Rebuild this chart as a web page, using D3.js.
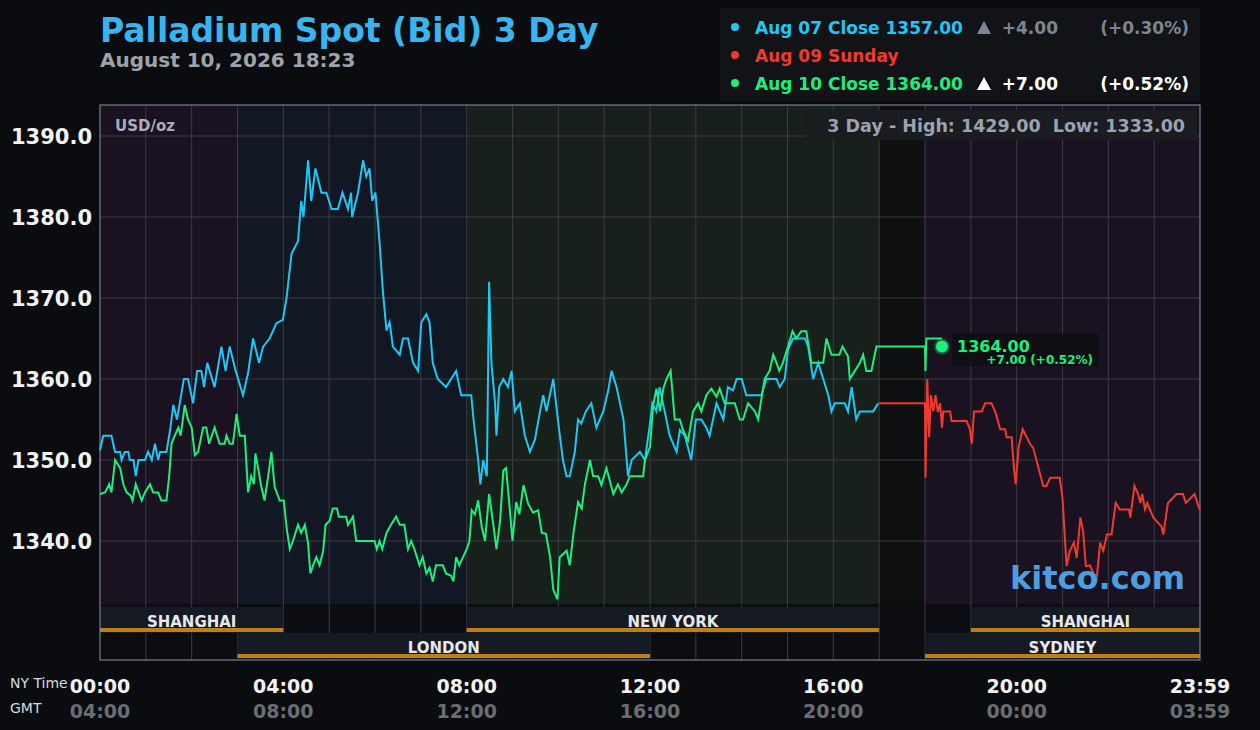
<!DOCTYPE html>
<html><head><meta charset="utf-8">
<script src="https://cdn.jsdelivr.net/npm/d3@7"></script>
<style>body{margin:0;background:#0b0c10;}svg{display:block;font-family:"DejaVu Sans",sans-serif;}text{white-space:pre;}</style>
</head><body><svg id="c" width="1260" height="730"></svg>
<script>
const aug07 = [[0,1351.2],[0.07,1353],[0.25,1353],[0.33,1351],[0.44,1351],[0.47,1350],[0.54,1351],[0.62,1351],[0.65,1350],[0.73,1350],[0.78,1348],[0.84,1350],[0.98,1350],[1.05,1351],[1.13,1350],[1.2,1352],[1.27,1350],[1.31,1351],[1.45,1351],[1.53,1353.7],[1.6,1356.8],[1.68,1355],[1.74,1357],[1.83,1360],[1.92,1360],[2.03,1357],[2.12,1361],[2.21,1361],[2.27,1359],[2.34,1362],[2.5,1359],[2.65,1364],[2.74,1361],[2.83,1364],[2.96,1361],[3.12,1358],[3.23,1360.7],[3.34,1365],[3.47,1362],[3.56,1364],[3.7,1365],[3.85,1366.9],[3.99,1367.3],[4.07,1370],[4.18,1375.5],[4.32,1377],[4.39,1382],[4.44,1380],[4.54,1387],[4.61,1382],[4.7,1386],[4.83,1383],[4.94,1383],[5.05,1381],[5.19,1381],[5.29,1383],[5.41,1381],[5.48,1383],[5.5,1380],[5.63,1383],[5.74,1387],[5.81,1385],[5.88,1386],[5.94,1382],[6.01,1383],[6.1,1376.8],[6.17,1371],[6.25,1366],[6.32,1367],[6.39,1364],[6.54,1363],[6.61,1365],[6.72,1365],[6.83,1362],[6.94,1361],[7.01,1367],[7.12,1368],[7.19,1367],[7.26,1362],[7.37,1360],[7.55,1359],[7.66,1360],[7.77,1361],[7.88,1358],[8.1,1358],[8.15,1355],[8.25,1350],[8.3,1347],[8.36,1350],[8.44,1348],[8.49,1372],[8.54,1362],[8.62,1357],[8.65,1353],[8.71,1359],[8.8,1360],[8.9,1359],[8.98,1361],[9.05,1356],[9.16,1357],[9.27,1353],[9.38,1351],[9.49,1352.5],[9.6,1356],[9.67,1358],[9.74,1356],[9.89,1360],[9.99,1355],[10.1,1350],[10.18,1348],[10.25,1348],[10.36,1351],[10.43,1355],[10.5,1354.5],[10.6,1356],[10.72,1357],[10.83,1354],[10.98,1356],[11.09,1358.6],[11.16,1361],[11.27,1359],[11.42,1355],[11.52,1348],[11.6,1350],[11.78,1351],[11.89,1350],[12,1354.5],[12.05,1357],[12.14,1356],[12.21,1359],[12.32,1356],[12.43,1353],[12.58,1351],[12.65,1353.7],[12.76,1353],[12.9,1350],[13,1355],[13.12,1355],[13.23,1354],[13.3,1353],[13.45,1357],[13.6,1355],[13.7,1359],[13.81,1358.6],[13.89,1360],[14,1360],[14.1,1358],[14.25,1358],[14.43,1358],[14.54,1360],[14.76,1360],[14.83,1359],[14.94,1360],[15.01,1363.6],[15.12,1365],[15.38,1365],[15.45,1364],[15.56,1360],[15.67,1362],[15.78,1360],[15.89,1358],[15.96,1356],[16.03,1357],[16.25,1357],[16.32,1356],[16.4,1359],[16.5,1355],[16.58,1356],[16.87,1356],[16.98,1357]];
const aug10 = [[0,1345.8],[0.11,1346],[0.2,1347],[0.25,1346],[0.33,1350],[0.44,1349],[0.51,1347],[0.58,1346],[0.67,1345.6],[0.71,1345],[0.78,1347],[0.91,1345],[0.98,1346],[1.09,1347],[1.16,1346],[1.27,1346],[1.34,1345],[1.45,1345],[1.51,1348],[1.56,1352],[1.63,1353],[1.71,1354],[1.76,1353],[1.85,1356.8],[1.92,1355],[2,1354],[2.07,1350.6],[2.14,1351],[2.25,1354],[2.32,1354],[2.38,1352],[2.5,1354],[2.61,1352],[2.72,1352],[2.76,1353],[2.83,1352],[2.9,1352],[2.98,1355.7],[3.05,1353],[3.16,1353],[3.2,1349],[3.23,1346],[3.3,1348],[3.36,1347],[3.39,1350.8],[3.45,1349],[3.52,1346.7],[3.59,1345],[3.67,1348],[3.74,1351],[3.81,1346.7],[3.92,1345],[4.01,1345],[4.07,1341.7],[4.14,1339],[4.21,1340],[4.32,1342],[4.39,1341],[4.47,1342],[4.54,1339.7],[4.59,1336],[4.65,1337],[4.72,1338],[4.79,1337],[4.87,1338.8],[4.92,1342],[5.01,1342.5],[5.08,1344],[5.17,1344],[5.21,1343],[5.37,1343],[5.41,1342],[5.52,1343],[5.59,1340],[5.99,1340],[6.04,1339],[6.1,1340],[6.16,1339],[6.25,1341],[6.35,1342],[6.46,1343],[6.54,1342],[6.64,1342],[6.72,1339],[6.79,1340],[6.86,1339],[6.97,1337],[7.04,1338],[7.12,1336],[7.19,1336.7],[7.26,1335],[7.33,1337],[7.48,1337],[7.55,1336],[7.66,1335.7],[7.71,1335],[7.77,1338],[7.84,1337],[7.92,1338],[8,1339],[8.06,1340],[8.11,1343.8],[8.18,1343.3],[8.25,1345],[8.33,1341.7],[8.4,1340],[8.49,1345.8],[8.57,1342.5],[8.65,1339],[8.73,1342.5],[8.8,1348.7],[8.86,1349],[8.93,1344.6],[9,1340],[9.08,1344.8],[9.15,1343.3],[9.24,1346.9],[9.34,1344.6],[9.45,1343.5],[9.56,1343.8],[9.64,1341],[9.73,1340.9],[9.82,1338],[9.89,1334],[9.98,1332.8],[10.03,1338],[10.18,1338.8],[10.25,1337],[10.33,1341],[10.43,1344.8],[10.51,1344],[10.58,1347],[10.69,1350],[10.76,1348],[10.87,1348],[10.94,1346.9],[11.05,1349],[11.2,1345.8],[11.3,1347],[11.38,1346],[11.49,1347],[11.56,1348],[11.85,1348],[11.89,1350],[12,1351.6],[12.07,1356.8],[12.14,1358.8],[12.22,1356],[12.29,1358.8],[12.36,1360],[12.45,1361],[12.54,1355],[12.65,1355],[12.72,1353.7],[12.83,1352.4],[12.94,1356],[13.05,1357],[13.12,1356],[13.23,1358],[13.34,1358.8],[13.45,1357.8],[13.52,1358.8],[13.63,1357],[13.85,1357],[13.96,1355],[14.03,1355],[14.14,1357],[14.29,1356],[14.36,1355],[14.5,1360],[14.61,1361],[14.69,1363],[14.76,1362],[14.82,1361],[14.9,1362],[15.01,1364],[15.11,1365.9],[15.19,1365],[15.3,1365.9],[15.41,1365.9],[15.52,1362],[15.59,1362],[15.78,1362],[15.85,1365],[15.96,1363],[16.13,1363],[16.2,1364],[16.32,1362.8],[16.36,1360],[16.47,1361],[16.58,1362],[16.65,1363],[16.72,1361],[16.83,1361],[16.94,1364],[18,1364],[18.01,1361],[18.03,1365],[18.37,1365]];
const aug09 = [[17,1357],[18,1357],[18.01,1347.8],[18.05,1360],[18.09,1352.8],[18.13,1358],[18.18,1356],[18.23,1358],[18.28,1355.9],[18.33,1357],[18.37,1354],[18.4,1356],[18.55,1356],[18.58,1354.8],[18.91,1354.8],[18.98,1353.8],[19.02,1352],[19.07,1356],[19.24,1356],[19.31,1357],[19.45,1357],[19.53,1356],[19.64,1353.8],[19.75,1353.8],[19.78,1352.8],[19.89,1352.8],[19.94,1349],[19.98,1347],[20.04,1351.5],[20.13,1353.8],[20.22,1352.8],[20.29,1352],[20.36,1351.5],[20.58,1346.8],[20.65,1346.8],[20.73,1347.8],[20.94,1347.8],[21,1345.3],[21.09,1336.9],[21.16,1338.8],[21.25,1339.8],[21.31,1337.9],[21.39,1342.9],[21.45,1341.2],[21.51,1336.9],[21.6,1337],[21.66,1336.2],[21.74,1335],[21.82,1339.8],[21.89,1338.8],[21.97,1340.8],[22.07,1340.8],[22.16,1344.7],[22.25,1343.9],[22.45,1343.9],[22.48,1342.9],[22.57,1346.8],[22.65,1345.8],[22.7,1344.7],[22.74,1345.8],[22.8,1343.9],[22.85,1344.7],[22.98,1342.9],[23.16,1341.8],[23.2,1340.8],[23.3,1344.7],[23.49,1345.8],[23.63,1345.8],[23.69,1344.7],[23.88,1345.8],[23.99,1343.9]];
const yTicks = [1340,1350,1360,1370,1380,1390];
const nyLabels = ["00:00","04:00","08:00","12:00","16:00","20:00","23:59"];
const gmtLabels = ["04:00","08:00","12:00","16:00","20:00","00:00","03:59"];
const labelHours = [0,4,8,12,16,20,24];
const zones = [[0,3,"#1a1220"],[3,8,"#111723"],[8,17,"#17201a"],[17,18,"#0e0f11"],[18,24,"#1a1220"]];
const sessions = [["SHANGHAI",0,4,0],["NEW YORK",8,17,0],["SHANGHAI",19,24,0],["LONDON",3,12,1],["SYDNEY",18,24,1]];
const legend = [["Aug 07 Close","1357.00","+4.00","(+0.30%)","#1ec8f5","#7d8590"],["Aug 09 Sunday","","","","#f2392e",""],["Aug 10 Close","1364.00","+7.00","(+0.52%)","#19f07d","#ffffff"]];

const svg = d3.select("#c");
const L=100,R=1200,T=105,B=604;
const x = d3.scaleLinear().domain([0,24]).range([L,R]);
const y = d3.scaleLinear().domain([1340,1390]).range([541,136]);

zones.forEach(z=>svg.append("rect").attr("x",x(z[0])).attr("y",T).attr("width",x(z[1])-x(z[0])).attr("height",B-T).attr("fill",z[2]));
svg.append("rect").attr("x",L).attr("y",B).attr("width",R-L).attr("height",660-B).attr("fill","#0c0d10");
d3.range(1,24).forEach(h=>svg.append("line").attr("x1",x(h)).attr("x2",x(h)).attr("y1",T).attr("y2",660).attr("stroke","#3a3d45").attr("stroke-width",1));
yTicks.forEach(v=>{svg.append("line").attr("x1",L).attr("x2",R).attr("y1",y(v)).attr("y2",y(v)).attr("stroke","#3a3d45");
 svg.append("text").attr("x",92).attr("y",y(v)+8).attr("text-anchor","end").attr("fill","#f2f2f2").attr("font-weight","bold").attr("font-size",21).text(v.toFixed(1));});
sessions.forEach(s=>{const y0=s[3]?633:607;
 svg.append("rect").attr("x",x(s[1])).attr("y",y0).attr("width",x(s[2])-x(s[1])).attr("height",26).attr("fill","#151a23");
 svg.append("rect").attr("x",x(s[1])).attr("y",y0+21).attr("width",x(s[2])-x(s[1])).attr("height",4).attr("fill","#c07f14");
 svg.append("text").attr("x",(x(s[1])+x(s[2]))/2).attr("y",y0+20).attr("text-anchor","middle").attr("fill","#e6e8ec").attr("font-weight","bold").attr("font-size",15).text(s[0]);});
svg.append("rect").attr("x",L).attr("y",T).attr("width",R-L).attr("height",660-T).attr("fill","none").attr("stroke","#8c94a8");

const line=d3.line().x(d=>x(d[0])).y(d=>y(d[1]));
[[aug09,"#f2392e"],[aug07,"#1ec8f5"],[aug10,"#19f07d"]].forEach(s=>svg.append("path").datum(s[0]).attr("d",line).attr("fill","none").attr("stroke",s[1]).attr("stroke-width",2));

svg.append("rect").attr("x",952).attr("y",333).attr("width",146).attr("height",33).attr("fill","#0e1012").attr("opacity",0.9);
svg.append("circle").attr("cx",942).attr("cy",y(1364)).attr("r",8).attr("fill","#19f07d").attr("opacity",0.3);
svg.append("circle").attr("cx",942).attr("cy",y(1364)).attr("r",6).attr("fill","#19f07d");
svg.append("text").attr("x",957).attr("y",352).attr("fill","#19f07d").attr("font-weight","bold").attr("font-size",16).text("1364.00");
svg.append("text").attr("x",1093).attr("y",364).attr("text-anchor","end").attr("fill","#19f07d").attr("font-weight","bold").attr("font-size",12).text("+7.00 (+0.52%)");

svg.append("text").attr("x",115).attr("y",131).attr("fill","#a8adb6").attr("font-weight","bold").attr("font-size",15).text("USD/oz");
svg.append("rect").attr("x",806).attr("y",110).attr("width",391).attr("height",30).attr("fill","#1a1c20");
svg.append("text").attr("x",1185).attr("y",132).attr("text-anchor","end").attr("fill","#9aa3b2").attr("font-weight","bold").attr("font-size",17.5).text("3 Day - High: 1429.00  Low: 1333.00");
svg.append("text").attr("x",1185).attr("y",589).attr("text-anchor","end").attr("fill","#4b9fe1").attr("font-weight","bold").attr("font-size",32).text("kitco.com");

svg.append("text").attr("x",100).attr("y",42).attr("fill","#38b5f0").attr("font-weight","bold").attr("font-size",33).text("Palladium Spot (Bid) 3 Day");
svg.append("text").attr("x",100).attr("y",67).attr("fill","#9ea2aa").attr("font-weight","bold").attr("font-size",20).text("August 10, 2026 18:23");

svg.append("rect").attr("x",720).attr("y",8).attr("width",480).attr("height",93).attr("fill","#111317");
legend.forEach((l,i)=>{const yy=34+i*28;
 svg.append("circle").attr("cx",735).attr("cy",yy-7).attr("r",4).attr("fill",l[4]);
 svg.append("text").attr("x",755).attr("y",yy).attr("fill",l[4]).attr("font-weight","bold").attr("font-size",17).text(l[0]+(l[1]?" "+l[1]:""));
 if(l[1]){
  svg.append("path").attr("d",`M977,${yy} l7,-13 l7,13 z`).attr("fill",l[5]);
  svg.append("text").attr("x",1058).attr("y",yy).attr("text-anchor","end").attr("fill",l[5]).attr("font-weight","bold").attr("font-size",17).text(l[2]);
  svg.append("text").attr("x",1189).attr("y",yy).attr("text-anchor","end").attr("fill",l[5]).attr("font-weight","bold").attr("font-size",17).text(l[3]);
 }});

svg.append("text").attr("x",10).attr("y",688).attr("fill","#d8dadd").attr("font-size",14).text("NY Time");
svg.append("text").attr("x",10).attr("y",713).attr("fill","#d8dadd").attr("font-size",14).text("GMT");
labelHours.forEach((h,i)=>{
 svg.append("text").attr("x",x(h)).attr("y",693).attr("text-anchor","middle").attr("fill","#f2f2f2").attr("font-weight","bold").attr("font-size",19).text(nyLabels[i]);
 svg.append("text").attr("x",x(h)).attr("y",718).attr("text-anchor","middle").attr("fill","#6a6d72").attr("font-weight","bold").attr("font-size",19).text(gmtLabels[i]);});
</script></body></html>
